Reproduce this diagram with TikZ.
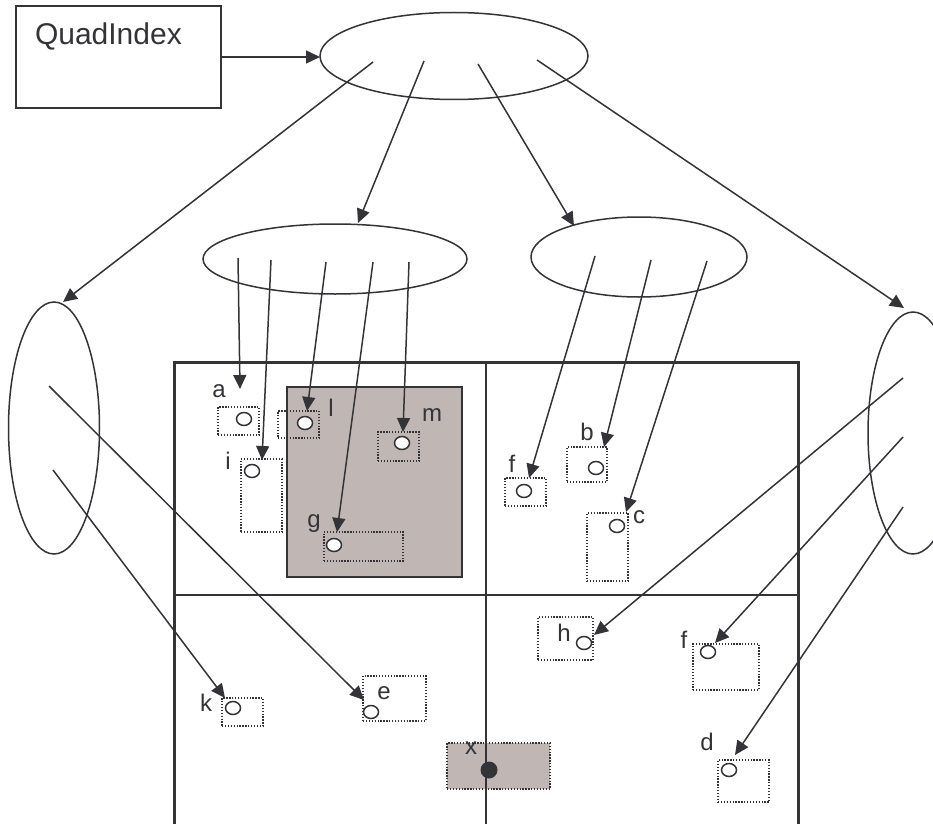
\documentclass[tikz,border=0pt]{standalone}
\usepackage{fontspec}
\setmainfont{Liberation Sans}
\usetikzlibrary{shapes.geometric,arrows.meta}
\definecolor{ink}{RGB}{51,51,56}
\definecolor{shade}{RGB}{192,183,181}
\begin{document}
\begin{tikzpicture}[x=1pt,y=-1pt,
  every node/.style={inner sep=0pt,outer sep=0pt},
  conn/.style={draw=ink,line width=1.5pt,-{Triangle[length=14pt,width=13pt]}},
  ell/.style={ellipse,draw=ink,line width=1.5pt},
  dbox/.style={draw=ink,line width=1.3pt,dash pattern=on 1.3pt off 1.6pt},
  pt/.style={ellipse,draw=ink,fill=white,line width=1.5pt,minimum width=15pt,minimum height=13pt},
  lab/.style={text=ink,font=\fontsize{24}{27}\selectfont},
  frame/.style={draw=ink,line width=3pt},
  divider/.style={draw=ink,line width=1.8pt}]
\useasboundingbox (0,0) rectangle (933,824);

% QuadIndex box and ellipses
\node[draw=ink,line width=1.5pt,minimum width=205pt,minimum height=102pt] (Q) at (118.5,57) {};
\node[anchor=base west,text=ink,font=\fontsize{30}{34}\selectfont] (Qt) at (35,45) {QuadIndex};
\node[ell,minimum width=268pt,minimum height=87pt] (T) at (454,56) {};
\node[ell,minimum width=264pt,minimum height=70pt] (ML) at (335,259) {};
\node[ell,minimum width=216pt,minimum height=80pt] (MR) at (639,257) {};
\node[ell,minimum width=91pt,minimum height=252pt] (L) at (54,428) {};
\node[ell,minimum width=90pt,minimum height=242pt] (R) at (913,433) {};

% quadrant frame
\node[fill=shade,draw=ink,line width=1.5pt,minimum width=175pt,minimum height=190pt] (S) at (374.5,482) {};
\node[dbox,fill=shade,minimum width=103pt,minimum height=46pt] (bx) at (498.5,766) {};
\draw[frame] (174,824) -- (174,362) -- (798,362) -- (798,824);
\draw[divider] (174,595) -- (798,595);
\draw[divider] (486,362) -- (486,824);

% dotted boxes
\node[dbox,minimum width=41pt,minimum height=28pt] (ba) at (238.5,421) {};
\node[dbox,minimum width=41pt,minimum height=27pt] (bl) at (298.5,424.5) {};
\node[dbox,minimum width=41pt,minimum height=29pt] (bm) at (398.5,446.5) {};
\node[dbox,minimum width=41pt,minimum height=73pt] (bi) at (261.5,495.5) {};
\node[dbox,minimum width=79pt,minimum height=29pt] (bg) at (363.5,546.5) {};
\node[dbox,minimum width=41pt,minimum height=28pt] (bf) at (525.5,492) {};
\node[dbox,minimum width=40pt,minimum height=35pt] (bb) at (587,464.5) {};
\node[dbox,minimum width=41pt,minimum height=68pt] (bc) at (607.5,547) {};
\node[dbox,minimum width=41pt,minimum height=28pt] (bk) at (242.5,712) {};
\node[dbox,minimum width=63pt,minimum height=45pt] (be) at (394.5,698.5) {};
\node[dbox,minimum width=55pt,minimum height=43pt] (bh) at (565.5,638.5) {};
\node[dbox,minimum width=66pt,minimum height=46pt] (bf2) at (726,667) {};
\node[dbox,minimum width=51pt,minimum height=42pt] (bd) at (743.5,781) {};

% points
\node[pt] (pa) at (244,419) {};
\node[pt] (pl) at (305,423) {};
\node[pt] (pm) at (402,443) {};
\node[pt] (pi) at (252,471) {};
\node[pt] (pg) at (334,545) {};
\node[pt] (pf) at (524,491) {};
\node[pt] (pb) at (596,468) {};
\node[pt] (pc) at (617,526) {};
\node[pt] (pk) at (233,708) {};
\node[pt] (pe) at (371,712) {};
\node[pt] (ph) at (584,643) {};
\node[pt] (pf2) at (708,652) {};
\node[pt] (pd) at (729,770) {};
\node[circle,fill=ink,minimum size=17pt] (px) at (489,770) {};

% labels
\node[lab] (la) at (219,391) {a};
\node[lab] (ll) at (331,408) {l};
\node[lab] (lm) at (432,415) {m};
\node[lab] (li) at (228,461) {i};
\node[lab] (lg) at (314,524) {g};
\node[lab] (lf) at (512,464) {f};
\node[lab] (lb) at (587,432) {b};
\node[lab] (lc) at (639,517) {c};
\node[lab] (lk) at (206,703) {k};
\node[lab] (le) at (384,693) {e};
\node[lab] (lx) at (471,748) {x};
\node[lab] (lh) at (564,633) {h};
\node[lab] (lf2) at (684,640) {f};
\node[lab] (ld) at (707,742) {d};

% connector ends
\coordinate (t1) at (373,62);  \coordinate (t2) at (424,61);
\coordinate (t3) at (478,64);  \coordinate (t4) at (537,60);
\coordinate (m1) at (238,258); \coordinate (m2) at (271,260);
\coordinate (m3) at (326,262); \coordinate (m4) at (373,262);
\coordinate (m5) at (409,262);
\coordinate (n1) at (595,256); \coordinate (n2) at (651,260);
\coordinate (n3) at (707,261);
\coordinate (l1) at (49,386);  \coordinate (l2) at (53,470);
\coordinate (r1) at (903,378); \coordinate (r2) at (903,437);
\coordinate (r3) at (903,507);
\coordinate (tL) at (63,302);  \coordinate (tML) at (358,223);
\coordinate (tMR) at (574,226); \coordinate (tR) at (904,308);
\coordinate (ta) at (240,389); \coordinate (ti) at (262,460);
\coordinate (tl) at (307,411); \coordinate (tg) at (337,532);
\coordinate (tm) at (403,432);
\coordinate (tf) at (529,478); \coordinate (tb) at (604,447);
\coordinate (tc) at (626,512);
\coordinate (te) at (364,700); \coordinate (tk) at (225,698);
\coordinate (th) at (594,635); \coordinate (tf2) at (715,643);
\coordinate (td) at (735,755);

% connectors
\draw[conn] (Q.east) -- (Q.east -| T.west);
\draw[conn] (t1) -- (tL);
\draw[conn] (t2) -- (tML);
\draw[conn] (t3) -- (tMR);
\draw[conn] (t4) -- (tR);
\draw[conn] (m1) -- (ta);
\draw[conn] (m2) -- (ti);
\draw[conn] (m3) -- (tl);
\draw[conn] (m4) -- (tg);
\draw[conn] (m5) -- (tm);
\draw[conn] (n1) -- (tf);
\draw[conn] (n2) -- (tb);
\draw[conn] (n3) -- (tc);
\draw[conn] (l1) -- (te);
\draw[conn] (l2) -- (tk);
\draw[conn] (r1) -- (th);
\draw[conn] (r2) -- (tf2);
\draw[conn] (r3) -- (td);
\end{tikzpicture}
\end{document}
